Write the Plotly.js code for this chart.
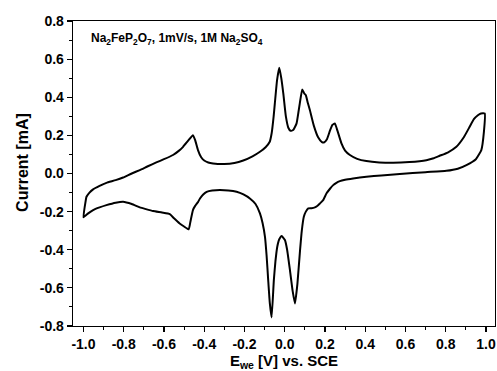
<!DOCTYPE html>
<html>
<head>
<meta charset="utf-8">
<script src="https://cdn.plot.ly/plotly-3.0.1.min.js"></script>
<style>html,body{margin:0;padding:0;background:#fff;}#chart{width:497px;height:371px;}</style>
</head>
<body>
<div id="chart"></div>
<script>
// Cyclic voltammogram: potential (V vs SCE) and current (mA), in scan order
const potential = [
  -1.0, -0.99, -0.985, -0.97, -0.952, -0.92, -0.886, -0.84, -0.803, -0.76,
  -0.72, -0.68, -0.638, -0.60, -0.555, -0.525, -0.505, -0.48, -0.456, -0.445,
  -0.431, -0.415, -0.40, -0.38, -0.356, -0.30, -0.25, -0.206, -0.16, -0.123,
  -0.095, -0.075, -0.065, -0.055, -0.049, -0.038, -0.027, -0.017, -0.007, 0.006,
  0.018, 0.029, 0.042, 0.059, 0.068, 0.075, 0.087, 0.097, 0.105, 0.115,
  0.125, 0.145, 0.166, 0.185, 0.195, 0.21, 0.225, 0.237, 0.249, 0.262,
  0.282, 0.30, 0.324, 0.36, 0.406, 0.47, 0.539, 0.62, 0.704, 0.74,
  0.77, 0.81, 0.853, 0.89, 0.919, 0.94, 0.96, 0.975, 0.994,
  0.99, 0.977, 0.95, 0.903, 0.86, 0.803, 0.70, 0.572, 0.48, 0.406,
  0.34, 0.30, 0.274, 0.255, 0.241, 0.225, 0.208, 0.191, 0.175, 0.16,
  0.15, 0.133, 0.117, 0.105, 0.095, 0.085, 0.075, 0.063, 0.051, 0.040,
  0.026, 0.012, 0.001, -0.015, -0.027, -0.037, -0.046, -0.054, -0.065, -0.074,
  -0.082, -0.09, -0.098, -0.11, -0.123, -0.145, -0.173, -0.205, -0.239, -0.28,
  -0.322, -0.36, -0.388, -0.405, -0.421, -0.431, -0.445, -0.456, -0.468, -0.477,
  -0.50, -0.522, -0.55, -0.571, -0.61, -0.654, -0.69, -0.72, -0.76, -0.803,
  -0.84, -0.886, -0.92, -0.952, -0.98, -1.0
];
const current = [
  -0.23, -0.15, -0.122, -0.10, -0.083, -0.065, -0.049, -0.035, -0.021, 0.000,
  0.018, 0.038, 0.058, 0.075, 0.097, 0.120, 0.140, 0.172, 0.201, 0.175,
  0.123, 0.085, 0.068, 0.058, 0.053, 0.050, 0.055, 0.068, 0.090, 0.114,
  0.138, 0.165, 0.21, 0.30, 0.368, 0.49, 0.555, 0.50, 0.42, 0.298,
  0.24, 0.224, 0.228, 0.263, 0.32, 0.368, 0.441, 0.42, 0.411, 0.37,
  0.333, 0.25, 0.19, 0.165, 0.163, 0.18, 0.225, 0.255, 0.263, 0.225,
  0.158, 0.12, 0.097, 0.077, 0.065, 0.058, 0.056, 0.060, 0.070, 0.08,
  0.093, 0.11, 0.14, 0.19, 0.245, 0.285, 0.306, 0.315, 0.315,
  0.22, 0.123, 0.075, 0.044, 0.025, 0.014, 0.007, -0.003, -0.010, -0.017,
  -0.026, -0.033, -0.040, -0.05, -0.061, -0.08, -0.104, -0.14, -0.157, -0.172,
  -0.178, -0.182, -0.183, -0.20, -0.227, -0.30, -0.419, -0.58, -0.682, -0.62,
  -0.507, -0.40, -0.349, -0.328, -0.345, -0.384, -0.46, -0.559, -0.755, -0.68,
  -0.559, -0.43, -0.332, -0.26, -0.209, -0.16, -0.131, -0.11, -0.096, -0.089,
  -0.087, -0.089, -0.096, -0.11, -0.131, -0.15, -0.17, -0.192, -0.25, -0.293,
  -0.278, -0.262, -0.235, -0.213, -0.205, -0.197, -0.187, -0.178, -0.160, -0.148,
  -0.153, -0.166, -0.178, -0.192, -0.212, -0.23
];
const xTickVals = [-1.0, -0.8, -0.6, -0.4, -0.2, 0.0, 0.2, 0.4, 0.6, 0.8, 1.0];
const xTickText = ["-1.0", "-0.8", "-0.6", "-0.4", "-0.2", "0.0", "0.2", "0.4", "0.6", "0.8", "1.0"];
const yTickVals = [-0.8, -0.6, -0.4, -0.2, 0.0, 0.2, 0.4, 0.6, 0.8];
const yTickText = ["-0.8", "-0.6", "-0.4", "-0.2", "0.0", "0.2", "0.4", "0.6", "0.8"];

const font = {family: "Liberation Sans, Arial, sans-serif", color: "#000", weight: "bold"};

const trace = {
  x: potential, y: current, type: "scatter", mode: "lines",
  line: {color: "#000", width: 2, shape: "spline", smoothing: 0.4},
  hoverinfo: "skip"
};

const axisCommon = {
  showline: true, linecolor: "#000", linewidth: 1.3, mirror: true,
  showgrid: false, zeroline: false,
  ticks: "outside", ticklen: 5, tickwidth: 1.2, tickcolor: "#000",
  tickmode: "array",
  tickfont: Object.assign({size: 14}, font)
};

const layout = {
  width: 497, height: 371,
  margin: {l: 73, r: 2, t: 21, b: 45},
  paper_bgcolor: "#fff", plot_bgcolor: "#fff",
  showlegend: false,
  font: font,
  xaxis: Object.assign({}, axisCommon, {
    range: [-1.052, 1.045],
    tickvals: xTickVals, ticktext: xTickText,
    minor: {dtick: 0.1, tick0: 0, ticks: "outside", ticklen: 3, tickwidth: 1, tickcolor: "#000", showgrid: false},
    title: {text: "E<sub>we</sub> [V] vs. SCE", font: Object.assign({size: 15}, font), standoff: 8}
  }),
  yaxis: Object.assign({}, axisCommon, {
    range: [-0.8, 0.8],
    tickvals: yTickVals, ticktext: yTickText,
    minor: {dtick: 0.1, tick0: 0, ticks: "outside", ticklen: 3, tickwidth: 1, tickcolor: "#000", showgrid: false}
  }),
  annotations: [{
    xref: "paper", yref: "paper", x: 0.037, y: 0.975, xanchor: "left", yanchor: "top",
    text: "Na<sub>2</sub>FeP<sub>2</sub>O<sub>7</sub>, 1mV/s, 1M Na<sub>2</sub>SO<sub>4</sub>",
    showarrow: false, font: Object.assign({size: 12}, font)
  }, {
    xref: "paper", yref: "paper", x: -0.1185, y: 0.538, xanchor: "center", yanchor: "middle",
    textangle: -90, text: "Current [mA]", showarrow: false,
    font: Object.assign({size: 16}, font)
  }]
};

Plotly.newPlot("chart", [trace], layout, {displayModeBar: false, staticPlot: true});
</script>
</body>
</html>
